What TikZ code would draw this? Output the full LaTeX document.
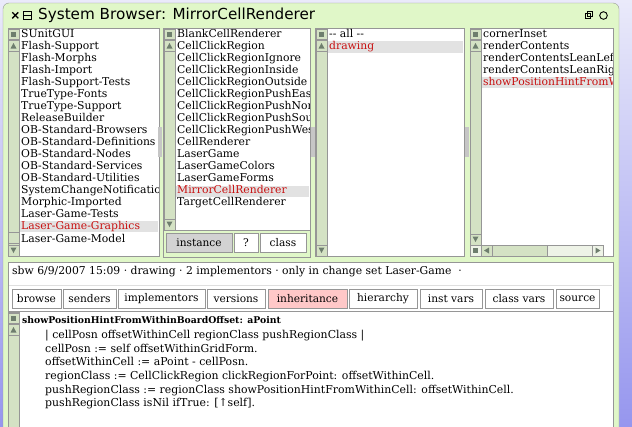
\documentclass[tikz,border=0pt]{standalone}
\usepackage{fontspec}
\setmainfont{DejaVu Serif}
\newfontfamily\titlefont{DejaVu Sans}
\usetikzlibrary{calc}
\definecolor{winbg}{RGB}{224,247,200}
\definecolor{sbargreen}{RGB}{212,226,196}
\definecolor{sbarmark}{RGB}{110,126,110}
\definecolor{frame}{RGB}{150,150,150}
\definecolor{selgray}{RGB}{226,226,226}
\definecolor{selred}{RGB}{200,16,16}
\definecolor{pinkbtn}{RGB}{255,200,200}
\definecolor{graybtn}{RGB}{210,210,210}
\definecolor{bgtop}{RGB}{234,234,250}
\definecolor{bgbot}{RGB}{150,150,238}

\begin{document}
\begin{tikzpicture}[x=1pt,y=-1pt,
    item/.style={anchor=west,inner sep=0pt,font=\fontsize{10.8}{12}\selectfont,text height=8pt,text depth=2pt},
    selitem/.style={item,text=selred},
    codeline/.style={item,font=\fontsize{10.9}{12}\selectfont},
    btn/.style={draw=frame,fill=white,inner sep=0pt,minimum height=19pt,font=\fontsize{10.6}{12}\selectfont},
    pinkb/.style={btn,fill=pinkbtn},
    grayb/.style={btn,fill=graybtn},
    pane/.style={draw=frame,fill=white}]
  \useasboundingbox (0,0) rectangle (632,426);
  \fill[top color=bgtop,bottom color=bgbot] (0,0) rectangle (632,426);

  % window
  \draw[frame,fill=winbg,rounded corners=6pt] (3,440) -- (3,3) -- (619,3) -- (619,440);
  \draw[line width=1.3pt] (12.3,12.3) -- (18.3,18.3) (12.3,18.3) -- (18.3,12.3);
  \draw[line width=0.9pt] (23.8,11.3) rectangle (31.4,19.3) (23.8,15.3) -- (31.4,15.3);
  \node[anchor=west,inner sep=0pt,font=\titlefont\fontsize{15.2}{17}\selectfont] (title) at (38,15.5) {System Browser: MirrorCellRenderer};
  \draw[line width=0.9pt] (585.5,13.5) rectangle (590.5,18.5) (587.5,11.5) rectangle (592.5,16.5);
  \draw[line width=0.9pt] (603.5,15.5) circle (3.8);

  % panes
  \draw[pane] (8,28) rectangle (159,256);
  \draw[frame] (163,28) rectangle (310,257);
  \draw[pane] (163,28) rectangle (310,230);
  \draw[pane] (315,28) rectangle (464,256);
  \draw[pane] (470,28) rectangle (613,256);
  \fill[selgray] (20,221) rectangle (158,232);
  \fill[selgray] (176,186) rectangle (309,197);
  \fill[selgray] (328,41) rectangle (463,53);
  \fill[selgray] (482,77) rectangle (612,88);

  % splitters
  \foreach \sx in {158,311,465}
    \fill[gray!45] (\sx,127) rectangle ++(3.5,30);

  % scrollbars
  \foreach \sx/\sy/\ey in {8/28/256,164/28/230,316/28/256,470/28/245,8/312/430} {
    \draw[frame,fill=sbargreen] (\sx,\sy) rectangle (\sx+11,\ey);
    \draw[frame] (\sx,\sy+1) rectangle (\sx+11,\sy+11);
    \fill[sbarmark] (\sx+3,\sy+3.5) rectangle (\sx+8,\sy+8.5);
    \draw[frame] (\sx,\sy+12) rectangle (\sx+11,\sy+23);
    \fill[sbarmark] (\sx+2.5,\sy+20.5) -- (\sx+8.5,\sy+20.5) -- (\sx+5.5,\sy+15) -- cycle;
  }
  \foreach \sx/\ey in {8/256,164/230,316/256,470/245} {
    \draw[frame] (\sx,\ey-11) rectangle (\sx+11,\ey);
    \fill[sbarmark] (\sx+2.5,\ey-8.5) -- (\sx+8.5,\ey-8.5) -- (\sx+5.5,\ey-3) -- cycle;
  }
  \draw[frame,fill=sbargreen] (8,232) rectangle (19,243);
  % horizontal bar of the selector pane
  \draw[frame,fill=sbargreen!40!white] (470,245) rectangle (603,256);
  \draw[frame,fill=sbargreen] (481,245) rectangle (547,256);
  \draw[frame] (470,245) rectangle (481,256) (481,245) rectangle (492,256) (592,245) rectangle (603,256);
  \fill[sbarmark] (473,248) rectangle (478,253);
  \fill[sbarmark] (489,247.5) -- (489,253.5) -- (484,250.5) -- cycle;
  \fill[sbarmark] (595.5,247.5) -- (595.5,253.5) -- (600.5,250.5) -- cycle;

  % lists
  \begin{scope}
    \clip (20,29) rectangle (158,255);
    \foreach \name/\st [count=\i from 0] in {SUnitGUI/item,Flash-Support/item,Flash-Morphs/item,Flash-Import/item,
        Flash-Support-Tests/item,TrueType-Fonts/item,TrueType-Support/item,ReleaseBuilder/item,
        OB-Standard-Browsers/item,OB-Standard-Definitions/item,OB-Standard-Nodes/item,
        OB-Standard-Services/item,OB-Standard-Utilities/item,SystemChangeNotificatio/item,
        Morphic-Imported/item,Laser-Game-Tests/item,Laser-Game-Graphics/selitem,Laser-Game-Model/item}
      \node[\st] (cat\i) at (21,34+12.06*\i) {\name};
  \end{scope}
  \begin{scope}
    \clip (176,29) rectangle (309,229);
    \foreach \name/\st [count=\i from 0] in {BlankCellRenderer/item,CellClickRegion/item,
        CellClickRegionIgnore/item,CellClickRegionInside/item,CellClickRegionOutside/item,
        CellClickRegionPushEast/item,CellClickRegionPushNort/item,CellClickRegionPushSout/item,
        CellClickRegionPushWest/item,CellRenderer/item,LaserGame/item,LaserGameColors/item,
        LaserGameForms/item,MirrorCellRenderer/selitem,TargetCellRenderer/item}
      \node[\st] (cls\i) at (177,34+12.06*\i) {\name};
  \end{scope}
  \node[item] (protall) at (329,34) {{-}{-} all {-}{-}};
  \node[selitem] (protdraw) at (329,46.5) {drawing};
  \begin{scope}
    \clip (482,29) rectangle (612,244);
    \foreach \name/\st [count=\i from 0] in {cornerInset/item,renderContents/item,
        renderContentsLeanLeft/item,renderContentsLeanRigh/item,showPositionHintFromWi/selitem}
      \node[\st] (sel\i) at (483,34+12.06*\i) {\name};
  \end{scope}

  % instance / ? / class
  \node[grayb,minimum width=66pt] (inst) at (199,243) {instance};
  \node[btn,minimum width=24pt] (quest) at (246,243) {?};
  \node[btn,minimum width=46pt] (clsbtn) at (283,243) {class};

  % status and code
  \draw[pane] (8,262) rectangle (613,440);
  \node[item] (status) at (12,271) {sbw 6/9/2007 15:09 · drawing · 2 implementors · only in change set Laser-Game~ ·};
  \draw[gray!25,line width=1pt] (9,285) -- (612,285);
  \foreach \lab/\a/\b/\st [count=\i] in {browse/12/61/btn,senders/63/116/btn,implementors/118/205/btn,
      versions/207/265/btn,inheritance/268/347/pinkb,hierarchy/349/417/btn,inst vars/420/482/btn,
      class vars/485/553/btn,source/556/599/btn}
    \node[\st,minimum width={(\b-\a)*1pt}] (tool\i) at ({(\a+\b)/2},298.5) {\lab};
  \draw[frame] (8,311) -- (613,311);
  \draw[frame,fill=sbargreen] (8,312) rectangle (19,430);
  \draw[frame] (8,313) rectangle (19,323) (8,324) rectangle (19,335);
  \fill[sbarmark] (11,315.5) rectangle (16,320.5);
  \fill[sbarmark] (10.5,332.5) -- (16.5,332.5) -- (13.5,327) -- cycle;
  \node[codeline,font=\bfseries\fontsize{9.3}{12}\selectfont] (sig) at (22,320) {showPositionHintFromWithinBoardOffset: aPoint};
  \node[codeline] (c1) at (45,335) {| cellPosn offsetWithinCell regionClass pushRegionClass |};
  \node[codeline] (c2) at (45,349) {cellPosn := self offsetWithinGridForm.};
  \node[codeline] (c3) at (45,362) {offsetWithinCell := aPoint - cellPosn.};
  \node[codeline] (c4) at (45,376) {regionClass := CellClickRegion clickRegionForPoint: offsetWithinCell.};
  \node[codeline] (c5) at (45,390) {pushRegionClass := regionClass showPositionHintFromWithinCell: offsetWithinCell.};
  \node[codeline] (c6) at (45,403) {pushRegionClass isNil ifTrue: [↑self].};
\end{tikzpicture}
\end{document}
